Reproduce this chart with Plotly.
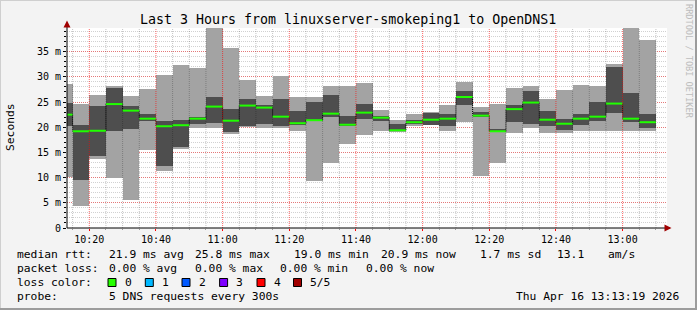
import plotly.graph_objects as go
from datetime import datetime, timedelta

# ---------------- data ----------------
DAY = "2026-04-16"
end_times = ["10:15", "10:20", "10:25", "10:30", "10:35", "10:40", "10:45", "10:50",
             "10:55", "11:00", "11:05", "11:10", "11:15", "11:20", "11:25", "11:30",
             "11:35", "11:40", "11:45", "11:50", "11:55", "12:00", "12:05", "12:10",
             "12:15", "12:20", "12:25", "12:30", "12:35", "12:40", "12:45", "12:50",
             "12:55", "13:00", "13:05", "13:10"]
smoke_max = [28.6, 24.7, 26.4, 28.2, 26.2, 27.6, 30.4, 32.4, 31.8, 40.5, 35.8, 29.4,
             26.2, 30.1, 26.1, 26.1, 28.2, 28.2, 28.8, 23.5, 21.5, 22.7, 23.0, 24.5,
             29.0, 24.1, 24.7, 27.8, 28.2, 25.6, 27.4, 28.4, 28.2, 32.6, 40.5, 37.4]
dark_hi = [24.9, 20.5, 24.3, 27.8, 24.3, 22.7, 21.3, 21.5, 22.1, 26.0, 23.7, 25.6,
           24.5, 25.6, 23.3, 25.0, 26.4, 22.3, 24.7, 22.3, 20.7, 21.4, 22.9, 22.7,
           27.2, 23.0, 19.7, 24.5, 27.2, 23.3, 21.7, 22.7, 25.1, 32.0, 26.8, 22.7]
median = [22.5, 19.2, 19.3, 24.6, 23.3, 21.7, 20.2, 20.4, 21.7, 24.1, 21.3, 24.3,
          23.9, 22.1, 20.8, 21.4, 22.7, 20.5, 22.9, 21.9, 19.4, 21.0, 21.5, 21.7,
          26.0, 22.3, 19.2, 23.6, 24.9, 21.5, 20.7, 21.7, 22.1, 24.7, 21.7, 21.0]
dark_lo = [20.2, 9.45, 14.2, 19.3, 19.7, 21.2, 12.4, 16.0, 20.6, 20.8, 19.0, 20.2,
           20.6, 20.2, 20.5, 21.2, 22.1, 20.3, 21.7, 21.2, 19.2, 20.6, 20.5, 20.2,
           24.5, 22.1, 19.0, 21.0, 20.7, 20.2, 19.4, 20.4, 21.2, 22.9, 21.0, 19.8]
smoke_min = [10.1, 4.3, 13.6, 10.0, 5.6, 15.5, 11.4, 15.6, 19.8, 19.8, 18.7, 20.0,
             19.8, 19.8, 19.3, 9.4, 13.0, 16.7, 18.5, 19.3, 19.1, 20.3, 20.5, 19.3,
             21.0, 10.4, 13.0, 18.8, 19.8, 18.8, 18.8, 19.2, 19.2, 19.2, 19.2, 19.2]

y_tick_vals = [0, 5, 10, 15, 20, 25, 30, 35]
y_tick_text = ["0", "5 m", "10 m", "15 m", "20 m", "25 m", "30 m", "35 m"]

title_text = "Last 3 Hours from linuxserver-smokeping1 to OpenDNS1"
rtt_row = [("median rtt:", 16.4), ("21.9 ms avg", 107.6), ("25.8 ms max", 194.2),
           ("19.0 ms min", 292.9), ("20.9 ms now", 380.0), ("1.7 ms sd", 479.0),
           ("13.1", 556.4), ("am/s", 607.0)]
loss_row = [("packet loss:", 16.4), ("0.00 % avg", 107.6), ("0.00 % max", 194.2),
            ("0.00 % min", 279.0), ("0.00 % now", 365.0)]
loss_labels = ["0", "1", "2", "3", "4", "5/5"]
loss_colors = ["#26ff00", "#00b8ff", "#0059ff", "#7e00ff", "#ff0000", "#a10000"]
loss_box_x = [108.0, 145.3, 182.0, 219.6, 257.0, 293.5]
probe_text = "5 DNS requests every 300s"
stamp_text = "Thu Apr 16 13:13:19 2026"

# ---------------- geometry ----------------
W, H = 697, 310
L, T, PW, PH = 67, 28, 600, 200
FONT = "DejaVu Sans Mono"
MAJOR_GRID = "rgba(255,0,0,0.42)"
MINOR_GRID = "rgba(0,0,0,0.18)"
MAJOR_VGRID = "rgba(255,0,0,0.6)"
MINOR_VGRID = "rgba(0,0,0,0.24)"


def X(px):
    return (px - L) / PW


def Y(py):
    return (T + PH - py) / PH


ends = [datetime.fromisoformat(f"{DAY} {t}:00") for t in end_times]
step = timedelta(minutes=5)
centers = [e - step / 2 for e in ends]
lefts = [e - step for e in ends]

fig = go.Figure()
fig.add_trace(go.Bar(x=centers, base=smoke_min,
                     y=[a - b for a, b in zip(smoke_max, smoke_min)],
                     width=300000, marker=dict(color="#a3a3a3", line=dict(width=0)),
                     hoverinfo="skip"))
fig.add_trace(go.Bar(x=centers, base=dark_lo,
                     y=[a - b for a, b in zip(dark_hi, dark_lo)],
                     width=300000, marker=dict(color="#4e4e4e", line=dict(width=0)),
                     hoverinfo="skip"))

cx, cy = [], []
for k in range(len(ends) - 1):
    cx += [ends[k], ends[k], None]
    cy += [median[k], median[k + 1], None]
fig.add_trace(go.Scatter(x=cx, y=cy, mode="lines",
                         line=dict(color="#000000", width=1, dash="1px,1px"),
                         hoverinfo="skip"))
gx, gy = [], []
for k in range(len(ends)):
    gx += [lefts[k], ends[k], None]
    gy += [median[k], median[k], None]
fig.add_trace(go.Scatter(x=gx, y=gy, mode="lines",
                         line=dict(color="#20ff00", width=2), hoverinfo="skip"))

shapes = []
# vertical grid (5 min minor, 20 min major) drawn over the smoke
for e in ends:
    major = (e.minute % 20 == 0)
    shapes.append(dict(type="line", xref="x", yref="paper", x0=e, x1=e, y0=0, y1=1,
                       layer="above",
                       line=dict(color=MAJOR_VGRID if major else MINOR_VGRID, width=1,
                                 dash="1px,1px")))
# axis lines and arrows
shapes.append(dict(type="line", xref="paper", yref="paper", x0=X(67), x1=X(670),
                   y0=0, y1=0, line=dict(color="#000", width=1)))
shapes.append(dict(type="line", xref="paper", yref="paper", x0=0, x1=0,
                   y0=Y(228), y1=Y(24), line=dict(color="#000", width=1)))
shapes.append(dict(type="path", xref="paper", yref="paper",
                   path=f"M {X(664.5)} {Y(224.5)} L {X(664.5)} {Y(231.5)} L {X(671.5)} {Y(228)} Z",
                   fillcolor="#a00000", line=dict(width=0)))
shapes.append(dict(type="path", xref="paper", yref="paper",
                   path=f"M {X(63.5)} {Y(27.5)} L {X(70.5)} {Y(27.5)} L {X(67)} {Y(20.5)} Z",
                   fillcolor="#a00000", line=dict(width=0)))
# frame
shapes.append(dict(type="line", xref="paper", yref="paper", x0=X(0), x1=X(697),
                   y0=Y(0.5), y1=Y(0.5), line=dict(color="#cfcfcf", width=1)))
shapes.append(dict(type="line", xref="paper", yref="paper", x0=X(0.5), x1=X(0.5),
                   y0=Y(0), y1=Y(310), line=dict(color="#cfcfcf", width=1)))
shapes.append(dict(type="line", xref="paper", yref="paper", x0=X(0), x1=X(697),
                   y0=Y(309), y1=Y(309), line=dict(color="#9c9c9c", width=2)))
shapes.append(dict(type="line", xref="paper", yref="paper", x0=X(696), x1=X(696),
                   y0=Y(0), y1=Y(310), line=dict(color="#9c9c9c", width=2)))
# loss colour boxes
for bx, col in zip(loss_box_x, loss_colors):
    shapes.append(dict(type="rect", xref="paper", yref="paper",
                       x0=X(bx), x1=X(bx + 8), y0=Y(286.5), y1=Y(278.5),
                       fillcolor=col, line=dict(color="#000", width=1)))

annotations = []


def txt(s, px, py, size, xanchor="left", color="#000", angle=0):
    annotations.append(dict(text=s, x=X(px), y=Y(py), xref="paper", yref="paper",
                            xanchor=xanchor, yanchor="middle", showarrow=False,
                            textangle=angle, borderpad=0,
                            font=dict(family=FONT, size=size, color=color)))


txt(title_text, 348, 19, 13.3, xanchor="center")
txt("Seconds", 10, 127, 11.3, xanchor="center", angle=-90)
txt("RRDTOOL / TOBI OETIKER", 689, 61, 8.6, xanchor="center", color="#bdbdbd", angle=90)
for s, px in rtt_row:
    txt(s, px, 254.3, 11.3)
for s, px in loss_row:
    txt(s, px, 268.3, 11.3)
txt("loss color:", 16.4, 282.3, 11.3)
for lab, bx in zip(loss_labels, loss_box_x):
    txt(lab, bx + 15.6, 282.3, 11.3)
txt("probe:", 16.4, 296.7, 11.3)
txt(probe_text, 107.6, 296.7, 11.3)
txt(stamp_text, 680, 296.7, 11.3, xanchor="right")

fig.update_layout(
    width=W, height=H,
    margin=dict(l=L, r=W - L - PW, t=T, b=H - T - PH, pad=0),
    paper_bgcolor="#f3f3f3", plot_bgcolor="#ffffff",
    barmode="overlay", bargap=0, showlegend=False,
    font=dict(family=FONT, size=10, color="#000"),
    shapes=shapes, annotations=annotations,
    xaxis=dict(type="date", range=[f"{DAY} 10:13:19", f"{DAY} 13:13:19"],
               tickformat="%H:%M", dtick=1200000, tick0=f"{DAY} 10:00:00",
               showgrid=False, zeroline=False, showline=False,
               ticks="outside", ticklen=2, tickcolor="#ff0000", tickwidth=1,
               tickfont=dict(family=FONT, size=10),
               layer="above traces", fixedrange=True,
               minor=dict(dtick=300000, tick0=f"{DAY} 10:00:00", showgrid=False,
                          ticks="outside", ticklen=1, tickcolor="#999999")),
    yaxis=dict(range=[0, 39.7], tickvals=y_tick_vals, ticktext=y_tick_text,
               showgrid=True, gridcolor=MAJOR_GRID, griddash="1px,1px",
               gridwidth=1, zeroline=False, showline=False,
               ticks="outside", ticklen=3, tickcolor="#000", tickwidth=1,
               tickfont=dict(family=FONT, size=10),
               layer="above traces", fixedrange=True,
               minor=dict(dtick=1, showgrid=True, gridcolor=MINOR_GRID,
                          griddash="1px,1px", ticks="outside", ticklen=2,
                          tickcolor="#000")),
)

fig.write_html("out.html")
